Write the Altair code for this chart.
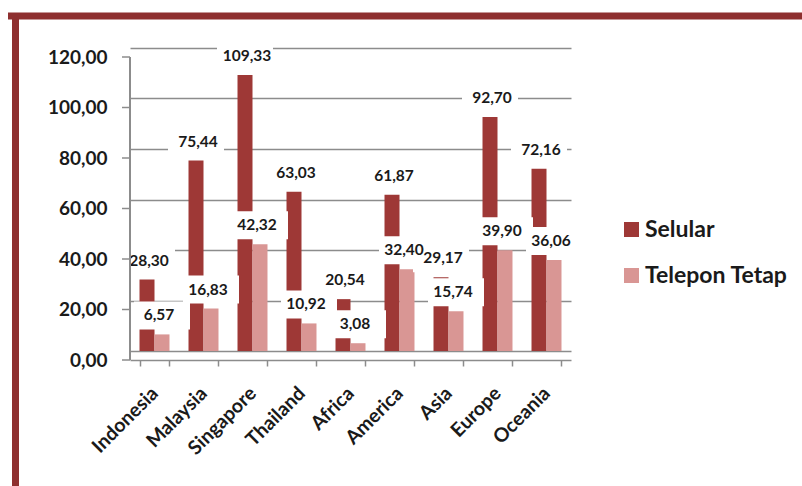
import altair as alt
import pandas as pd

categories = ["Indonesia", "Malaysia", "Singapore", "Thailand", "Africa",
              "America", "Asia", "Europe", "Oceania"]
selular = [28.30, 75.44, 109.33, 63.03, 20.54, 61.87, 29.17, 92.70, 72.16]
telepon = [6.57, 16.83, 42.32, 10.92, 3.08, 32.40, 15.74, 39.90, 36.06]
series_names = ["Selular", "Telepon Tetap"]
series_colors = ["#9E3836", "#D99694"]
y_ticks = [0, 20, 40, 60, 80, 100, 120]

rows = []
for c, s, t in zip(categories, selular, telepon):
    rows.append({"cat": c, "series": series_names[0], "value": s})
    rows.append({"cat": c, "series": series_names[1], "value": t})
df = pd.DataFrame(rows)
ticks_df = pd.DataFrame({"v": y_ticks})

FONT = "Lato"
TXT = "#1a1a1a"
FRONT = 9  # front-axis offset of the pseudo-3D chart

x_enc = alt.X("cat:N", sort=categories,
              scale=alt.Scale(paddingInner=0.388, paddingOuter=0.194),
              axis=alt.Axis(title=None, labelAngle=-45, labelAlign="right",
                            labelBaseline="middle", labelFont=FONT,
                            labelFontSize=19.5, labelFontWeight="bold",
                            labelColor=TXT, labelPadding=24, offset=FRONT,
                            tickBand="extent", tickSize=6, tickColor="#8c8c8c",
                            tickWidth=1.5, domainColor="#8c8c8c",
                            domainWidth=1.5))
y_enc = alt.Y("value:Q",
              scale=alt.Scale(domain=[0, 120], nice=False),
              axis=alt.Axis(title=None, values=y_ticks, grid=True,
                            gridColor="#8c8c8c", gridWidth=1.5,
                            domain=False, ticks=False, labelOffset=FRONT,
                            labelPadding=23, labelFont=FONT, labelFontSize=19,
                            labelFontWeight="bold", labelColor=TXT,
                            labelExpr="replace(format(datum.value, '.2f'), '.', ',')"))
xoff = alt.XOffset("series:N", sort=series_names,
                   scale=alt.Scale(paddingInner=0, paddingOuter=0))

base = alt.Chart(df)

bars = base.mark_bar().encode(
    x=x_enc, y=y_enc, xOffset=xoff,
    color=alt.Color("series:N", sort=series_names,
                    scale=alt.Scale(domain=series_names, range=series_colors),
                    legend=alt.Legend(title=None, orient="none", legendX=490,
                                      legendY=170, symbolType="square",
                                      symbolSize=225, symbolStrokeWidth=0,
                                      labelFont=FONT, labelFontSize=23,
                                      labelFontWeight="bold", labelColor=TXT,
                                      rowPadding=22, labelOffset=2)),
)

boxes = base.mark_point(
    shape="M-1,-0.5L1,-0.5L1,0.5L-1,0.5Z", filled=True, color="white",
    opacity=1, size=3136, yOffset=-19,
).encode(x=alt.X("cat:N", sort=categories), y="value:Q", xOffset=xoff)

label_base = base.transform_calculate(
    lab="replace(format(datum.value, '.2f'), '.', ',')"
)
labels_sel = label_base.transform_filter(
    alt.datum.series == series_names[0]
).mark_text(font=FONT, fontSize=15.5, fontWeight="bold", color=TXT,
            baseline="middle", dy=-19, dx=2).encode(
    x=alt.X("cat:N", sort=categories), y="value:Q", xOffset=xoff,
    text="lab:N")
labels_tel = label_base.transform_filter(
    alt.datum.series == series_names[1]
).mark_text(font=FONT, fontSize=15.5, fontWeight="bold", color=TXT,
            baseline="middle", dy=-19, dx=-3).encode(
    x=alt.X("cat:N", sort=categories), y="value:Q", xOffset=xoff,
    text="lab:N")

front_axis = alt.Chart(ticks_df).mark_rule(
    color="#8c8c8c", strokeWidth=1.5, yOffset=FRONT, y2Offset=FRONT
).encode(x=alt.value(0), y=alt.datum(0, type="quantitative"),
         y2=alt.datum(120))
front_ticks = alt.Chart(ticks_df).mark_rule(
    color="#8c8c8c", strokeWidth=1.5, yOffset=FRONT
).encode(x=alt.value(-8), x2=alt.value(0), y="v:Q")

frame_top = alt.Chart(ticks_df.head(1)).mark_rule(
    color="#8E2F2F", strokeWidth=7
).encode(x=alt.value(-122), x2=alt.value(672), y=alt.value(-32))
frame_left = alt.Chart(ticks_df.head(1)).mark_rule(
    color="#8E2F2F", strokeWidth=7
).encode(x=alt.value(-114.5), y=alt.value(-35), y2=alt.value(438))

chart = alt.layer(
    bars, boxes, labels_sel, labels_tel, front_axis, front_ticks,
    frame_top, frame_left
).properties(
    width=441, height=303,
    autosize=alt.AutoSizeParams(type="none"),
    padding={"left": 130, "top": 48, "right": 231, "bottom": 135},
    background="white",
).configure_view(stroke=None)

chart.save("out.html", embed_options={"renderer": "svg", "actions": False})
